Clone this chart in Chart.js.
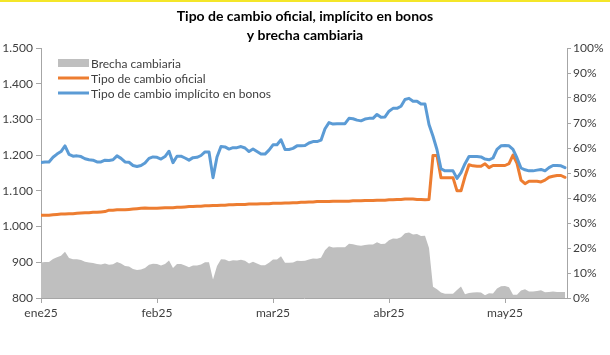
<!DOCTYPE html>
<html><head><meta charset="utf-8">
<script src="https://cdn.jsdelivr.net/npm/chart.js@4"></script>
<style>
html,body{margin:0;padding:0;background:#fff;overflow:hidden}
#wrap{position:relative;width:610px;height:355px}
#bar{position:absolute;left:0;top:0;width:610px;height:2px;background:#f4e629}
</style></head><body>
<div id="wrap"><canvas id="c" width="610" height="355"></canvas><div id="bar"></div></div>
<script>
const titleLines = ['Tipo de cambio oficial, implícito en bonos', 'y brecha cambiaria'];
const seriesNames = ['Brecha cambiaria', 'Tipo de cambio oficial', 'Tipo de cambio implícito en bonos'];
const monthLabels = ['ene25', 'feb25', 'mar25', 'abr25', 'may25'];
const monthTicks = [0, 29, 58, 87, 116];

const tcBonos = [
 1179,1181,1181,1194,1203,1210,1226,1202,1197,1198,
 1196,1190,1187,1186,1181,1181,1186,1185,1187,1198,
 1191,1181,1180,1171,1168,1171,1178,1191,1195,1194,
 1189,1196,1211,1179,1197,1197,1192,1186,1193,1194,
 1199,1209,1209,1137,1195,1224,1223,1217,1221,1221,
 1224,1220,1210,1217,1210,1203,1203,1214,1229,1229,
 1243,1216,1216,1219,1226,1226,1227,1234,1238,1238,
 1242,1274,1291,1287,1288,1288,1288,1303,1302,1298,
 1296,1301,1303,1303,1314,1306,1307,1323,1331,1331,
 1337,1356,1359,1351,1351,1343,1343,1286,1253,1215,
 1162,1156,1156,1156,1135,1151,1176,1196,1196,1196,
 1195,1189,1187,1192,1216,1226,1227,1226,1216,1192,
 1164,1159,1156,1156,1158,1160,1156,1165,1171,1171,
 1170,1165
];
const tcOficial = [
 1032,1032,1032,1033,1034,1035,1035,1036,1036,1037,
 1038,1039,1039,1040,1040,1041,1042,1046,1046,1047,
 1047,1047,1048,1049,1050,1051,1052,1051,1051,1051,
 1052,1053,1053,1053,1054,1054,1055,1056,1056,1057,
 1057,1058,1058,1059,1059,1060,1060,1061,1061,1062,
 1062,1062,1063,1063,1063,1064,1064,1064,1065,1065,
 1065,1066,1066,1067,1067,1068,1068,1069,1069,1070,
 1070,1070,1070,1071,1071,1071,1071,1071,1072,1072,
 1072,1073,1073,1073,1074,1074,1074,1075,1075,1076,
 1076,1077,1077,1077,1076,1076,1075,1076,1199,1199,
 1137,1137,1137,1137,1100,1100,1140,1173,1170,1169,
 1169,1176,1165,1171,1171,1171,1171,1176,1200,1177,
 1130,1120,1127,1127,1127,1125,1130,1138,1141,1143,
 1143,1138
];
const brecha = [
 14.2,14.4,14.4,15.6,16.3,16.9,18.5,16.0,15.5,15.5,
 15.2,14.5,14.2,14.0,13.6,13.4,13.8,13.3,13.5,14.4,
 13.8,12.8,12.6,11.6,11.2,11.4,12.0,13.3,13.7,13.6,
 13.0,13.6,15.0,12.0,13.6,13.6,13.0,12.3,13.0,13.0,
 13.4,14.3,14.3,7.4,12.8,15.5,15.4,14.7,15.1,15.0,
 15.3,14.9,13.8,14.5,13.8,13.1,13.1,14.1,15.4,15.4,
 16.7,14.1,14.1,14.2,14.9,14.8,14.9,15.4,15.8,15.7,
 16.1,19.1,20.7,20.2,20.3,20.3,20.3,21.7,21.5,21.1,
 20.9,21.2,21.4,21.4,22.3,21.6,21.7,23.1,23.8,23.7,
 24.3,25.9,26.2,25.4,25.6,24.8,24.9,20.0,4.5,3.5,
 2.2,1.7,1.7,1.7,3.2,4.6,1.5,2.0,2.2,2.3,
 2.2,1.1,1.9,1.8,3.8,4.7,4.8,4.3,1.3,1.3,
 3.0,3.5,2.6,2.6,2.8,3.1,2.3,2.4,2.6,2.4,
 2.4,2.4
];

const FONT = 'Lato, "Liberation Sans", sans-serif';
const colGray = '#BFBFBF', colOrange = '#ED7D31', colBlue = '#5B9BD5';
const axisCol = '#A6A6A6', textCol = '#404040';
Chart.defaults.font.family = FONT;

const toXY = arr => arr.map((v, i) => ({x: i, y: v}));
const fmtThousands = v => String(v).replace(/\B(?=(\d{3})+(?!\d))/g, '.');

const overlay = {
  id: 'overlay',
  afterDraw(chart) {
    const ctx = chart.ctx;
    ctx.save();
    ctx.fillStyle = '#000';
    ctx.font = 'bold 14px ' + FONT;
    ctx.textAlign = 'center';
    ctx.textBaseline = 'middle';
    ctx.fillText(titleLines[0], 305, 16);
    ctx.fillText(titleLines[1], 305, 35);
    // legend
    const lx = 58, lw = 31, tx = 91, rows = [63, 78, 93];
    ctx.font = '12px ' + FONT;
    ctx.textAlign = 'left';
    ctx.fillStyle = textCol;
    ctx.fillStyle = colGray;
    ctx.fillRect(lx, rows[0] - 4, lw, 8);
    ctx.lineWidth = 3;
    ctx.strokeStyle = colOrange;
    ctx.beginPath(); ctx.moveTo(lx, rows[1]); ctx.lineTo(lx + lw, rows[1]); ctx.stroke();
    ctx.strokeStyle = colBlue;
    ctx.beginPath(); ctx.moveTo(lx, rows[2]); ctx.lineTo(lx + lw, rows[2]); ctx.stroke();
    ctx.fillStyle = textCol;
    seriesNames.forEach((n, k) => ctx.fillText(n, tx, rows[k] + 1));
    ctx.restore();
  }
};

new Chart(document.getElementById('c'), {
  type: 'line',
  data: {
    datasets: [
      {label: seriesNames[2], data: toXY(tcBonos), yAxisID: 'y', borderColor: colBlue, borderWidth: 3,
       pointRadius: 0, tension: 0, borderJoinStyle: 'round', borderCapStyle: 'round', fill: false, order: 0},
      {label: seriesNames[1], data: toXY(tcOficial), yAxisID: 'y', borderColor: colOrange, borderWidth: 3,
       pointRadius: 0, tension: 0, borderJoinStyle: 'round', borderCapStyle: 'round', fill: false, order: 1},
      {label: seriesNames[0], data: toXY(brecha), yAxisID: 'y2', borderWidth: 0, borderColor: colGray,
       backgroundColor: colGray, pointRadius: 0, tension: 0, fill: 'origin', order: 2}
    ]
  },
  options: {
    responsive: false,
    animation: false,
    devicePixelRatio: 1,
    layout: {padding: {top: 48, left: 0, right: 0, bottom: 0}},
    plugins: {legend: {display: false}, title: {display: false}, tooltip: {enabled: false}},
    scales: {
      x: {
        type: 'linear', min: 0, max: 131.5,
        afterBuildTicks: s => { s.ticks = monthTicks.map(v => ({value: v})); },
        afterFit: s => { s.height = 57; },
        ticks: {callback: v => monthLabels[monthTicks.indexOf(v)], color: textCol,
                font: {size: 12}, maxRotation: 0, autoSkip: false, padding: 3},
        grid: {drawOnChartArea: false, drawTicks: true, tickLength: 5, color: axisCol},
        border: {display: true, color: axisCol}
      },
      y: {
        position: 'left', min: 800, max: 1500,
        afterFit: s => { s.width = 41; },
        ticks: {stepSize: 100, callback: v => fmtThousands(v), color: textCol, font: {size: 12}, padding: 3},
        grid: {drawOnChartArea: false, drawTicks: true, tickLength: 5, color: axisCol},
        border: {display: true, color: axisCol}
      },
      y2: {
        position: 'right', min: 0, max: 100,
        afterFit: s => { s.width = 43; },
        ticks: {stepSize: 10, callback: v => v + '%', color: textCol, font: {size: 12}, padding: 2},
        grid: {drawOnChartArea: false, drawTicks: true, tickLength: 4, color: axisCol},
        border: {display: true, color: axisCol}
      }
    }
  },
  plugins: [overlay]
});
</script>
</body></html>
